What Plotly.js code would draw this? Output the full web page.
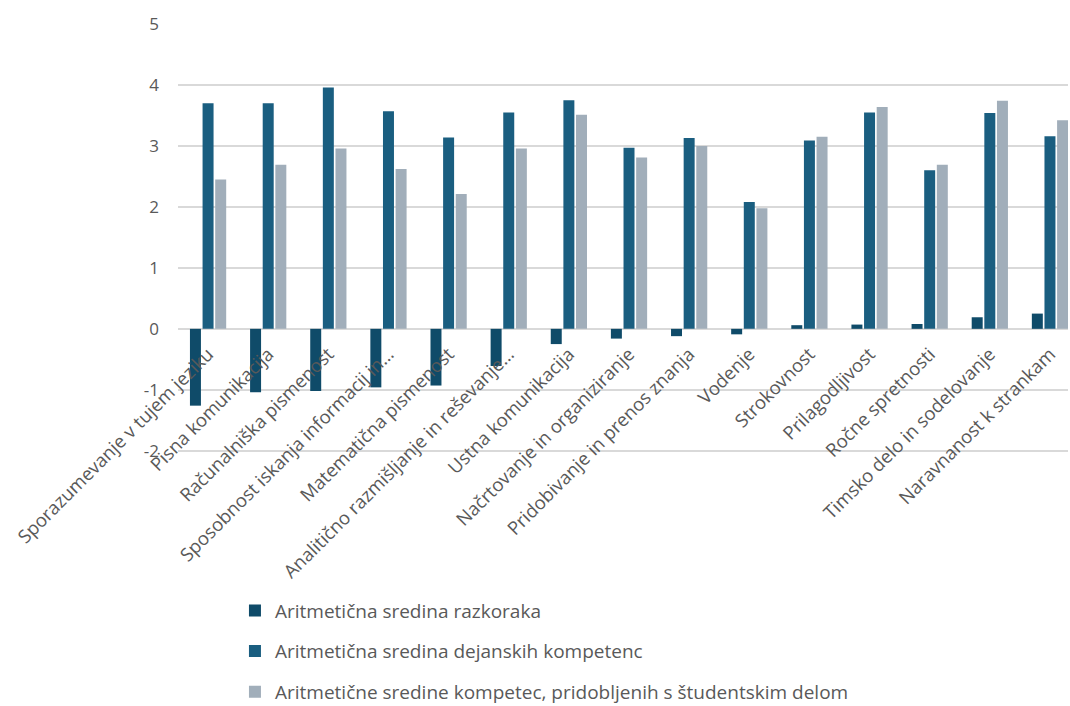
<!DOCTYPE html>
<html>
<head>
<meta charset="utf-8">
<script src="https://cdn.plot.ly/plotly-3.0.1.min.js"></script>
<style>
  html, body { margin: 0; padding: 0; background: #ffffff; }
  #chart { width: 1070px; height: 706px; }
</style>
</head>
<body>
<div id="chart"></div>
<script>
// Competences (category axis)
const categories = [
  "Sporazumevanje v tujem jeziku",
  "Pisna komunikacija",
  "Računalniška pismenost",
  "Sposobnost iskanja informacij in…",
  "Matematična pismenost",
  "Analitično razmišljanje in reševanje…",
  "Ustna komunikacija",
  "Načrtovanje in organiziranje",
  "Pridobivanje in prenos znanja",
  "Vodenje",
  "Strokovnost",
  "Prilagodljivost",
  "Ročne spretnosti",
  "Timsko delo in sodelovanje",
  "Naravnanost k strankam"
];

// Series names
const seriesNames = [
  "Aritmetična sredina razkoraka",
  "Aritmetična sredina dejanskih kompetenc",
  "Aritmetične sredine kompetec, pridobljenih s študentskim delom"
];

// Mean gap
const gapMeans = [-1.26, -1.04, -1.02, -0.96, -0.93, -0.61, -0.25, -0.16, -0.12, -0.09, 0.06, 0.07, 0.08, 0.19, 0.25];
// Mean of actual competences
const actualMeans = [3.70, 3.70, 3.96, 3.57, 3.14, 3.55, 3.75, 2.97, 3.13, 2.08, 3.09, 3.55, 2.60, 3.54, 3.16];
// Mean of competences gained through student work
const studentWorkMeans = [2.45, 2.69, 2.96, 2.62, 2.21, 2.96, 3.51, 2.81, 3.00, 1.98, 3.15, 3.64, 2.69, 3.74, 3.42];

const yTicks = [-2, -1, 0, 1, 2, 3, 4, 5];

const colors = ["#0f4b69", "#1a5e80", "#a1aeba"];
const seriesValues = [gapMeans, actualMeans, studentWorkMeans];

const traces = seriesValues.map((vals, i) => ({
  type: "bar",
  name: seriesNames[i],
  x: categories,
  y: vals,
  legendgroup: "g" + i,
  marker: { color: colors[i], line: { width: 0 } },
  hoverinfo: "x+y+name"
}));

// a little headroom below -2 so its gridline is drawn
const yMin = -2.02, yMax = 5;

const layout = {
  width: 1070,
  height: 706,
  paper_bgcolor: "#ffffff",
  plot_bgcolor: "#ffffff",
  font: { family: "Open Sans, sans-serif", color: "#595959" },
  margin: { l: 178, r: 2, t: 24, b: 254, pad: 0, autoexpand: false },
  barmode: "group",
  bargap: 0.37,
  bargroupgap: 0.13,
  showlegend: true,
  legend: {
    orientation: "v",
    x: 0.064,
    xanchor: "left",
    y: -0.326,
    yanchor: "top",
    font: { size: 19, color: "#595959" },
    tracegroupgap: 13,
    bgcolor: "rgba(0,0,0,0)"
  },
  xaxis: {
    type: "category",
    range: [-0.5, 14.3],
    anchor: "free",
    position: (0 - yMin) / (yMax - yMin),
    tickangle: -45,
    tickfont: { size: 18.5, color: "#595959" },
    ticklabelstandoff: 10,
    showgrid: false,
    zeroline: false,
    showline: false,
    ticks: "",
    automargin: false
  },
  yaxis: {
    range: [yMin, yMax],
    tickvals: yTicks,
    ticktext: yTicks.map(String),
    tickfont: { size: 17, color: "#595959" },
    showgrid: true,
    gridcolor: "#d9d9d9",
    gridwidth: 1.5,
    zeroline: true,
    zerolinecolor: "#d9d9d9",
    zerolinewidth: 1.5,
    showline: false,
    ticks: "",
    ticklabelstandoff: 18,
    automargin: false
  }
};

Plotly.newPlot("chart", traces, layout, { displayModeBar: false, staticPlot: true });
</script>
</body>
</html>
